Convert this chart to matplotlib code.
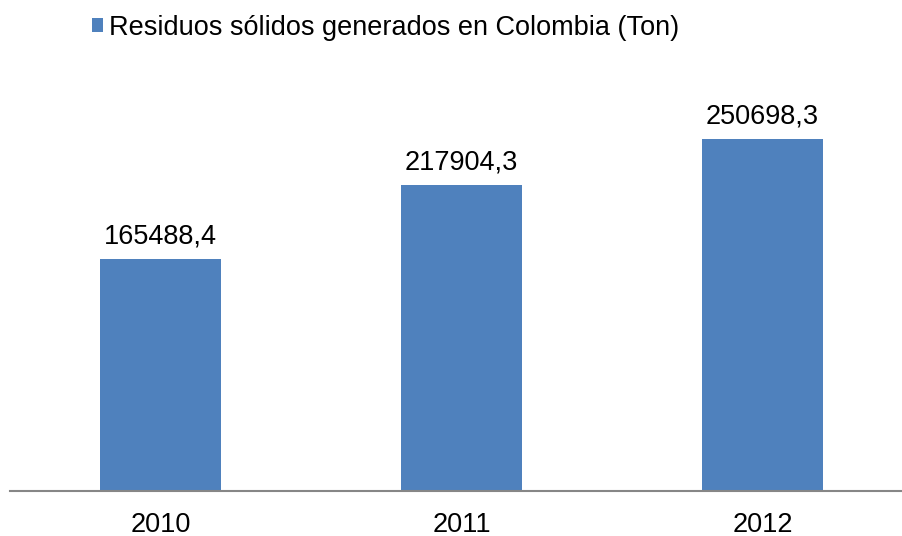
import matplotlib
matplotlib.use("Agg")
import matplotlib.pyplot as plt

years = ["2010", "2011", "2012"]
residuos = [165488.4, 217904.3, 250698.3]
value_labels = ["165488,4", "217904,3", "250698,3"]
series_name = "Residuos sólidos generados en Colombia (Ton)"

plt.rcParams["font.family"] = ["Liberation Sans", "DejaVu Sans"]
FS = 19.5

W, H = 903, 536
fig = plt.figure(figsize=(W / 100, H / 100), dpi=100)
ax = fig.add_axes([10 / W, (H - 491) / H, 1 - 10 / W, (491 - 70) / H])

x = range(len(years))
bars = ax.bar(x, residuos, width=0.4, color="#4F81BD", label=series_name, zorder=2)
ax.bar_label(bars, labels=value_labels, padding=7, fontsize=FS, color="#000000")

ax.set_xlim(-0.5, 2.5 - 10 / 301)
ax.set_ylim(0, 300000)
ax.set_xticks(list(x))
ax.set_xticklabels(years, fontsize=FS)
ax.tick_params(axis="x", length=0, pad=15)
ax.set_yticks([])
for side in ("top", "right", "left"):
    ax.spines[side].set_visible(False)
ax.spines["bottom"].set_color("#868686")
ax.spines["bottom"].set_linewidth(1.5)

fig.legend(handles=[bars], labels=[series_name], loc="center left",
           bbox_to_anchor=(92 / W, 1 - 28 / H), frameon=False, fontsize=FS,
           handlelength=0.42, handleheight=0.42, handletextpad=0.2,
           borderpad=0, borderaxespad=0)

fig.savefig("out.png", dpi=100)
